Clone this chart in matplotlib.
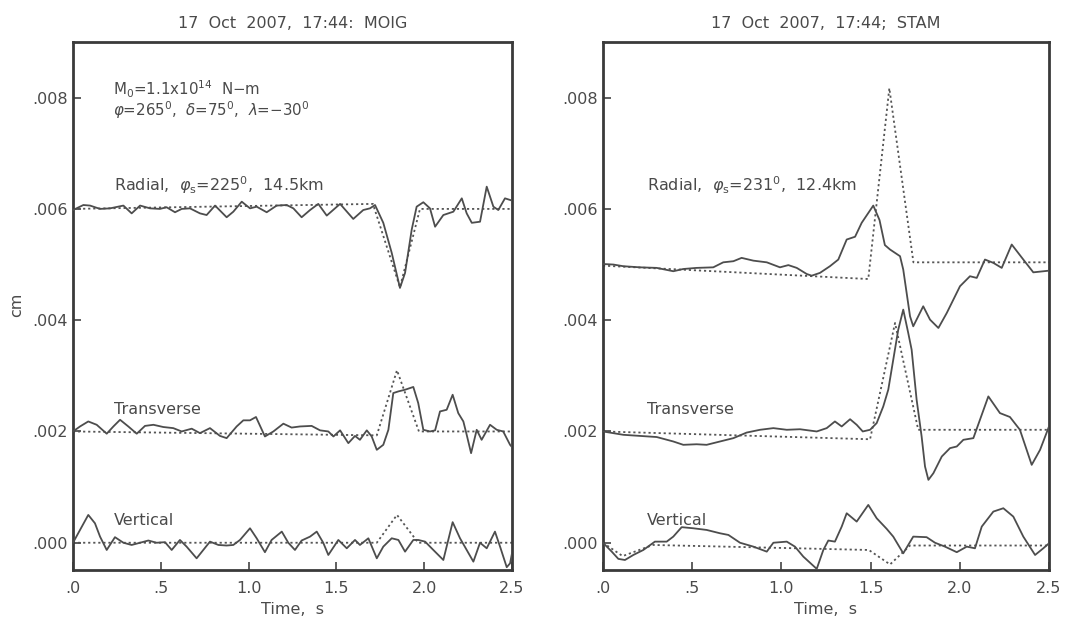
import matplotlib
matplotlib.use("Agg")
import matplotlib.pyplot as plt
import numpy as np

plt.rcParams['font.family'] = ['DejaVu Sans']
plt.rcParams['mathtext.fontset'] = 'dejavusans'

# ---------------- data (cm, values in units of 1e-3 cm) ----------------
SCALE = 1e-3

# Left panel: MOIG
moig_rad_obs_t = [0.0, 0.059, 0.097, 0.154, 0.211, 0.287, 0.334, 0.382, 0.439, 0.495, 0.533, 0.581, 0.619,
                  0.666, 0.723, 0.761, 0.809, 0.875, 0.913, 0.961, 1.008, 1.046, 1.103, 1.160, 1.217, 1.255,
                  1.302, 1.350, 1.397, 1.445, 1.521, 1.596, 1.653, 1.691, 1.720, 1.767, 1.815, 1.862, 1.891,
                  1.929, 1.957, 1.995, 2.033, 2.062, 2.109, 2.166, 2.214, 2.242, 2.271, 2.318, 2.356, 2.394,
                  2.422, 2.460, 2.500]
moig_rad_obs_v = [5.98, 6.07, 6.06, 6.00, 6.01, 6.06, 5.92, 6.06, 6.01, 6.00, 6.03, 5.94, 6.00, 6.01, 5.92,
                  5.89, 6.06, 5.85, 5.95, 6.13, 6.01, 6.04, 5.94, 6.06, 6.07, 6.01, 5.85, 5.98, 6.09, 5.88,
                  6.09, 5.82, 5.98, 6.01, 6.07, 5.75, 5.21, 4.58, 4.85, 5.63, 6.04, 6.12, 6.01, 5.68, 5.89,
                  5.95, 6.19, 5.92, 5.75, 5.77, 6.40, 6.04, 5.98, 6.19, 6.15]
moig_rad_syn_t = [0.0, 1.708, 1.862, 1.976, 2.5]
moig_rad_syn_v = [6.00, 6.09, 4.59, 6.00, 6.00]

moig_tra_obs_t = [0.0, 0.040, 0.087, 0.135, 0.192, 0.230, 0.268, 0.315, 0.363, 0.410, 0.458, 0.514, 0.571,
                  0.619, 0.676, 0.723, 0.780, 0.837, 0.875, 0.932, 0.970, 1.008, 1.042, 1.093, 1.141, 1.198,
                  1.245, 1.293, 1.359, 1.407, 1.454, 1.483, 1.521, 1.568, 1.606, 1.634, 1.673, 1.701, 1.730,
                  1.767, 1.796, 1.824, 1.853, 1.891, 1.938, 1.966, 1.995, 2.033, 2.062, 2.090, 2.128, 2.162,
                  2.194, 2.223, 2.242, 2.267, 2.299, 2.327, 2.375, 2.413, 2.450, 2.489, 2.500]
moig_tra_obs_v = [2.00, 2.09, 2.18, 2.12, 1.96, 2.09, 2.21, 2.09, 1.96, 2.10, 2.12, 2.08, 2.06, 2.00, 2.05,
                  1.97, 2.06, 1.92, 1.88, 2.09, 2.20, 2.20, 2.26, 1.91, 2.00, 2.14, 2.07, 2.09, 2.10, 2.02,
                  2.00, 1.91, 2.02, 1.79, 1.92, 1.85, 2.02, 1.91, 1.67, 1.76, 2.03, 2.69, 2.72, 2.75, 2.80,
                  2.51, 2.03, 2.00, 2.02, 2.36, 2.39, 2.66, 2.33, 2.18, 1.94, 1.61, 2.03, 1.85, 2.12, 2.03,
                  2.00, 1.76, 1.72]
moig_tra_syn_t = [0.0, 1.73, 1.845, 1.97, 2.5]
moig_tra_syn_v = [2.00, 1.93, 3.10, 2.00, 2.00]

moig_ver_obs_t = [0.0, 0.040, 0.087, 0.125, 0.154, 0.192, 0.239, 0.287, 0.334, 0.382, 0.429, 0.476, 0.524,
                  0.562, 0.609, 0.647, 0.704, 0.742, 0.780, 0.828, 0.875, 0.913, 0.951, 1.008, 1.046, 1.093,
                  1.131, 1.189, 1.226, 1.264, 1.302, 1.350, 1.388, 1.425, 1.454, 1.511, 1.559, 1.606, 1.634,
                  1.682, 1.730, 1.767, 1.815, 1.853, 1.891, 1.938, 1.966, 2.005, 2.052, 2.109, 2.162, 2.204,
                  2.242, 2.280, 2.318, 2.356, 2.403, 2.432, 2.470, 2.489, 2.500]
moig_ver_obs_v = [0.00, 0.23, 0.50, 0.35, 0.11, -0.13, 0.10, 0.00, -0.04, 0.00, 0.04, 0.00, 0.01, -0.13,
                  0.05, -0.07, -0.28, -0.13, 0.02, -0.04, -0.05, -0.04, 0.05, 0.26, 0.08, -0.17, 0.05, 0.20,
                  0.00, -0.13, 0.04, 0.11, 0.20, 0.00, -0.22, 0.05, -0.10, 0.05, -0.04, 0.08, -0.28, -0.07,
                  0.08, 0.05, -0.16, 0.05, 0.05, 0.02, -0.13, -0.31, 0.37, 0.08, -0.13, -0.34, 0.00, -0.10,
                  0.20, -0.07, -0.44, -0.37, -0.19]
moig_ver_syn_t = [0.0, 1.73, 1.845, 1.966, 2.5]
moig_ver_syn_v = [0.00, 0.00, 0.50, 0.00, 0.00]

# Right panel: STAM
stam_rad_obs_t = [0.0, 0.058, 0.114, 0.207, 0.301, 0.394, 0.450, 0.525, 0.618, 0.674, 0.731, 0.777, 0.843,
                  0.918, 0.992, 1.039, 1.086, 1.142, 1.170, 1.216, 1.272, 1.319, 1.366, 1.413, 1.450, 1.515,
                  1.550, 1.580, 1.609, 1.665, 1.683, 1.702, 1.721, 1.739, 1.767, 1.795, 1.833, 1.880, 1.927,
                  2.001, 2.057, 2.095, 2.141, 2.188, 2.235, 2.291, 2.356, 2.412, 2.500]
stam_rad_obs_v = [5.01, 5.00, 4.97, 4.95, 4.94, 4.88, 4.92, 4.94, 4.95, 5.04, 5.06, 5.12, 5.07, 5.04, 4.95,
                  4.99, 4.94, 4.83, 4.80, 4.85, 4.97, 5.09, 5.45, 5.50, 5.75, 6.06, 5.80, 5.35, 5.27, 5.15,
                  4.91, 4.49, 4.07, 3.89, 4.07, 4.25, 4.01, 3.86, 4.13, 4.61, 4.79, 4.76, 5.09, 5.03, 4.94,
                  5.36, 5.09, 4.86, 4.89]
stam_rad_syn_t = [0.0, 1.487, 1.605, 1.74, 2.5]
stam_rad_syn_v = [4.98, 4.74, 8.17, 5.04, 5.04]

stam_tra_obs_t = [0.0, 0.114, 0.207, 0.301, 0.394, 0.450, 0.525, 0.581, 0.656, 0.731, 0.805, 0.880, 0.955,
                  1.030, 1.104, 1.198, 1.254, 1.300, 1.338, 1.385, 1.422, 1.456, 1.497, 1.534, 1.571, 1.599,
                  1.627, 1.655, 1.683, 1.711, 1.730, 1.758, 1.786, 1.805, 1.824, 1.852, 1.899, 1.945, 1.983,
                  2.020, 2.076, 2.113, 2.160, 2.225, 2.281, 2.337, 2.403, 2.450, 2.500]
stam_tra_obs_v = [2.00, 1.94, 1.92, 1.90, 1.82, 1.76, 1.77, 1.76, 1.82, 1.88, 1.98, 2.03, 2.06, 2.03, 2.04,
                  2.00, 2.06, 2.18, 2.09, 2.22, 2.12, 2.00, 2.03, 2.15, 2.45, 2.75, 3.29, 3.83, 4.19, 3.77,
                  3.47, 2.57, 1.91, 1.37, 1.13, 1.25, 1.55, 1.70, 1.73, 1.85, 1.88, 2.21, 2.63, 2.33, 2.26,
                  2.03, 1.40, 1.67, 2.09]
stam_tra_syn_t = [0.0, 1.497, 1.637, 1.767, 2.5]
stam_tra_syn_v = [2.00, 1.86, 3.95, 2.03, 2.03]

stam_ver_obs_t = [0.0, 0.049, 0.086, 0.123, 0.170, 0.226, 0.291, 0.357, 0.394, 0.441, 0.506, 0.581, 0.656,
                  0.703, 0.768, 0.843, 0.918, 0.955, 1.030, 1.076, 1.123, 1.198, 1.235, 1.263, 1.300, 1.338,
                  1.366, 1.422, 1.487, 1.534, 1.590, 1.627, 1.683, 1.739, 1.814, 1.861, 1.917, 1.983, 2.039,
                  2.085, 2.123, 2.188, 2.244, 2.300, 2.356, 2.422, 2.468, 2.500]
stam_ver_obs_v = [0.00, -0.16, -0.29, -0.31, -0.22, -0.13, 0.02, 0.02, 0.11, 0.28, 0.26, 0.23, 0.17, 0.14,
                  0.00, -0.07, -0.16, 0.00, 0.02, -0.07, -0.25, -0.47, -0.13, 0.04, 0.02, 0.29, 0.53, 0.38,
                  0.68, 0.44, 0.25, 0.11, -0.19, 0.11, 0.10, 0.00, -0.07, -0.17, -0.07, -0.10, 0.29, 0.56,
                  0.62, 0.47, 0.11, -0.22, -0.10, -0.01]
stam_ver_syn_t = [0.0, 0.11, 0.28, 1.49, 1.609, 1.721, 2.5]
stam_ver_syn_v = [0.00, -0.24, -0.04, -0.13, -0.39, -0.05, -0.05]

x_ticks = [0.0, 0.5, 1.0, 1.5, 2.0, 2.5]
x_tick_labels = ['.0', '.5', '1.0', '1.5', '2.0', '2.5']
y_ticks = [0.000, 0.002, 0.004, 0.006, 0.008]
y_tick_labels = ['.000', '.002', '.004', '.006', '.008']

titles = ['17  Oct  2007,  17:44:  MOIG', '17  Oct  2007,  17:44;  STAM']
radial_labels = [r'Radial,  $\varphi_{\mathrm{s}}$=225$^{\mathrm{0}}$,  14.5km',
                 r'Radial,  $\varphi_{\mathrm{s}}$=231$^{\mathrm{0}}$,  12.4km']
moment_text = [r'M$_{\mathrm{0}}$=1.1x10$^{\mathrm{14}}$  N$-$m',
               r'$\varphi$=265$^{\mathrm{0}}$,  $\delta$=75$^{\mathrm{0}}$,  $\lambda$=$-$30$^{\mathrm{0}}$']

# ---------------- styling ----------------
TXT = '#4a4a4a'
LINE = '#4d4d4d'
DOT = '#555555'
FS = 11.5

fig = plt.figure(figsize=(10.71, 6.18), dpi=100)
W, H = 1071, 618
axL = fig.add_axes([73 / W, 1 - 570 / H, 439 / W, 528 / H])
axR = fig.add_axes([603 / W, 1 - 570 / H, 446 / W, 528 / H])

panels = [
    (axL, [(moig_rad_obs_t, moig_rad_obs_v, moig_rad_syn_t, moig_rad_syn_v),
           (moig_tra_obs_t, moig_tra_obs_v, moig_tra_syn_t, moig_tra_syn_v),
           (moig_ver_obs_t, moig_ver_obs_v, moig_ver_syn_t, moig_ver_syn_v)]),
    (axR, [(stam_rad_obs_t, stam_rad_obs_v, stam_rad_syn_t, stam_rad_syn_v),
           (stam_tra_obs_t, stam_tra_obs_v, stam_tra_syn_t, stam_tra_syn_v),
           (stam_ver_obs_t, stam_ver_obs_v, stam_ver_syn_t, stam_ver_syn_v)]),
]

for i, (ax, traces) in enumerate(panels):
    for ot, ov, st, sv in traces:
        ax.plot(st, np.array(sv) * SCALE, color=DOT, lw=1.3, ls=(0, (1.2, 1.6)), zorder=2)
        ax.plot(ot, np.array(ov) * SCALE, color=LINE, lw=1.3, solid_joinstyle='round', zorder=3)
    ax.set_xlim(0, 2.5)
    ax.set_ylim(-0.00049, 0.0090)
    ax.set_xticks(x_ticks)
    ax.set_xticklabels(x_tick_labels)
    ax.set_yticks(y_ticks)
    ax.set_yticklabels(y_tick_labels)
    ax.tick_params(axis='both', direction='in', length=6, width=1.2, color='#444444',
                   labelsize=FS, labelcolor=TXT)
    ax.tick_params(axis='x', pad=8)
    ax.tick_params(axis='y', pad=4)
    for sp in ax.spines.values():
        sp.set_linewidth(2.0)
        sp.set_color('#3a3a3a')
    ax.set_title(titles[i], fontsize=FS, color=TXT, pad=10)
    ax.set_xlabel('Time,  s', fontsize=FS, color=TXT, labelpad=4)
    x0 = 0.235 if i == 0 else 0.245
    ax.text(x0, 0.00642, radial_labels[i], fontsize=FS, color=TXT, ha='left', va='center')
    ax.text(x0, 0.00240, 'Transverse', fontsize=FS, color=TXT, ha='left', va='center')
    ax.text(x0, 0.00040, 'Vertical', fontsize=FS, color=TXT, ha='left', va='center')

axL.text(0.228, 0.00815, moment_text[0], fontsize=10.8, color=TXT, ha='left', va='center')
axL.text(0.228, 0.00777, moment_text[1], fontsize=10.8, color=TXT, ha='left', va='center')

fig.text(17 / W, 1 - 305 / H, 'cm', rotation=90, fontsize=FS, color=TXT, ha='center', va='center')

fig.savefig('out.png', dpi=100)
